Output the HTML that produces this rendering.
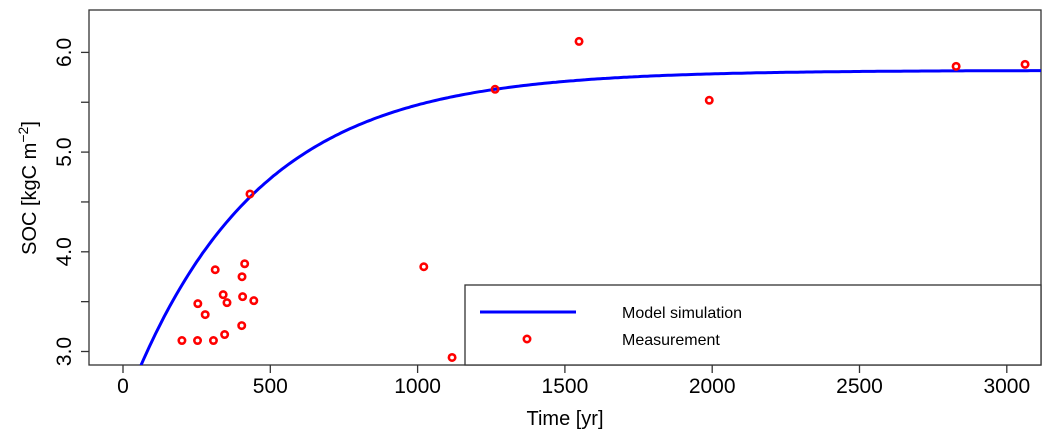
<!DOCTYPE html>
<html><head><meta charset="utf-8"><style>
body{margin:0;background:#fff}
svg{display:block;font-family:"Liberation Sans",Arial,sans-serif}
</style></head><body>
<svg id="chart" width="1051" height="440" viewBox="0 0 1051 440" xmlns="http://www.w3.org/2000/svg">
<defs><clipPath id="pc"><rect x="89" y="10" width="952" height="355"/></clipPath></defs>
<rect x="89" y="10" width="952" height="355" fill="none" stroke="#333" stroke-width="1.3"/>
<g id="xaxis"></g>
<g id="yaxis"></g>
<text x="565" y="425" font-size="20" text-anchor="middle">Time [yr]</text>
<text transform="translate(36,188) rotate(-90)" font-size="20" text-anchor="middle">SOC [kgC m<tspan dy="-8" font-size="14">−2</tspan><tspan dy="8">]</tspan></text>
<g id="series" clip-path="url(#pc)"></g>
<g>
<rect x="465" y="285" width="576" height="80" fill="#fff" stroke="#333" stroke-width="1.3"/>
<line x1="480" y1="312" x2="576" y2="312" stroke="#0000ff" stroke-width="3"/>
<text x="622" y="318" font-size="16">Model simulation</text>
<circle cx="527" cy="339" r="3.2" fill="none" stroke="#ff0000" stroke-width="2.6"/>
<text x="622" y="345" font-size="16">Measurement</text>
</g>
</svg>
<script>
const xTicks=[0,500,1000,1500,2000,2500,3000];
const yTicks=[3.0,4.0,5.0,6.0];
const yMinor=[3.5,4.5,5.5];
const measTime=[200,253,307,345,403,279,254,340,353,406,444,313,404,413,431,1021,1117,1263,1548,1990,2828,3062];
const measSOC=[3.11,3.11,3.11,3.17,3.26,3.37,3.48,3.57,3.49,3.55,3.51,3.82,3.75,3.88,4.58,3.85,2.94,5.63,6.11,5.52,5.86,5.88];
const modelA=5.82, modelB=3.40, modelTau=438;
const NS="http://www.w3.org/2000/svg";
const X=t=>123+t*0.2946;
const Y=v=>351.5-(v-3)*99.7;
function mk(tag,attrs,parent){const e=document.createElementNS(NS,tag);for(const k in attrs)e.setAttribute(k,attrs[k]);parent.appendChild(e);return e;}
const xa=document.getElementById('xaxis'),ya=document.getElementById('yaxis'),sr=document.getElementById('series');
xTicks.forEach(t=>{
 const l=mk('line',{x1:X(t),x2:X(t),y1:365,y2:373,stroke:'#333','stroke-width':1.3},xa);
 
 
 const tx=mk('text',{x:X(t),y:393,'font-size':21,'text-anchor':'middle'},xa);
 tx.textContent=t;
 
 
});
yTicks.concat(yMinor).forEach(v=>{
 const l=mk('line',{x1:81,x2:89,y1:Y(v),y2:Y(v),stroke:'#333','stroke-width':1.3},ya);
 
 
});
yTicks.forEach(v=>{
 const tx=mk('text',{transform:`translate(71,${Y(v)}) rotate(-90)`,'font-size':21,'text-anchor':'middle'},ya);
 tx.textContent=v.toFixed(1);
 
 
});
let d='';
for(let t=0;t<=3200;t+=10){const v=modelA-modelB*Math.exp(-t/modelTau);d+=(t?'L':'M')+X(t).toFixed(1)+','+Y(v).toFixed(1);}
const p=mk('path',{d:d,fill:'none',stroke:'#0000ff','stroke-width':3},sr);


measTime.forEach((t,i)=>{
 const c=mk('circle',{cx:X(t),cy:Y(measSOC[i]),r:3.2,fill:'none',stroke:'#ff0000','stroke-width':2.6},sr);
 
 
});
</script>
</body></html>
